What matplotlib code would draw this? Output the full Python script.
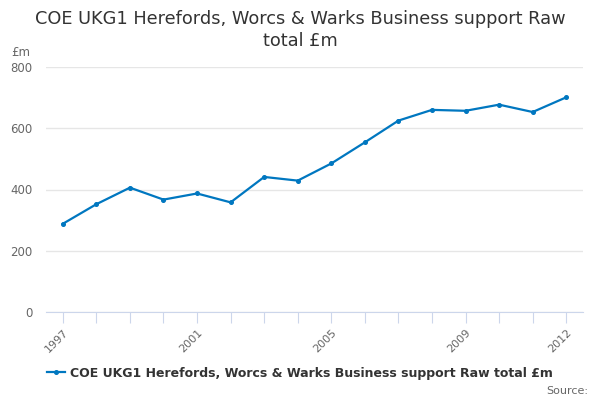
import matplotlib
matplotlib.use("Agg")
import matplotlib.pyplot as plt

years = list(range(1997, 2013))
values = [288, 352, 406, 367, 387, 358, 441, 429, 485, 554, 625, 660, 657, 677, 653, 701]
label_years = [1997, 2001, 2005, 2009, 2012]
y_ticks = [0, 200, 400, 600, 800]
series_name = "COE UKG1 Herefords, Worcs & Warks Business support Raw total £m"

plt.rcParams['font.family'] = ['DejaVu Sans']
fig = plt.figure(figsize=(6, 4), dpi=100)
ax = fig.add_axes([0.0767, 0.22, 0.895, 0.6125])

line, = ax.plot(years, values, color='#0077c0', lw=1.6, marker='o', ms=2.6,
                label=series_name)

ax.set_xlim(1996.5, 2012.5)
ax.set_ylim(0, 800)
ax.set_yticks(y_ticks)
ax.set_xticks(years)
ax.set_xticklabels([str(y) if y in label_years else '' for y in years],
                   rotation=45, ha='right', rotation_mode='anchor')
ax.tick_params(axis='x', length=8, color='#ccd6eb', labelcolor='#666666',
               labelsize=8, pad=3)
ax.tick_params(axis='y', length=0, labelcolor='#666666', labelsize=8.5, pad=10)

ax.grid(axis='y', color='#e6e6e6', lw=1)
ax.set_axisbelow(True)
for s in ['top', 'right', 'left']:
    ax.spines[s].set_visible(False)
ax.spines['bottom'].set_color('#ccd6eb')

fig.text(0.5, 0.975, "COE UKG1 Herefords, Worcs & Warks Business support Raw\ntotal £m",
         ha='center', va='top', fontsize=12.8, color='#333333', linespacing=1.25)
fig.text(0.018, 0.868, "£m", fontsize=8.5, color='#666666', ha='left', va='center')

fig.legend(handles=[line], loc='center', bbox_to_anchor=(0.5, 0.0675),
           frameon=False, prop={'weight': 'bold', 'size': 9}, handlelength=1.5,
           handletextpad=0.4, labelcolor='#333333')
fig.text(0.98, 0.022, "Source:", fontsize=8, color='#666666', ha='right', va='center')

fig.savefig("out.png", dpi=100)
